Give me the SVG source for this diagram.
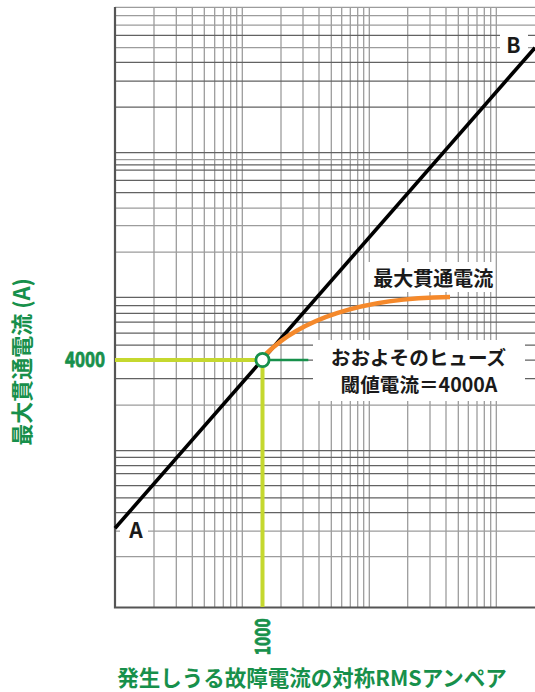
<svg xmlns="http://www.w3.org/2000/svg" width="535" height="692" viewBox="0 0 535 692">
<style>
.gv{stroke:#999;stroke-width:1.25;fill:none}
.gh{stroke:#626262;stroke-width:1.25;fill:none}
.ghl{stroke:#9c9c9c;stroke-width:1.25;fill:none}
.ax{stroke:#555;stroke-width:2.2;fill:none}
.bg{fill:#fff}
.lbl{font-family:"Noto Sans CJK JP","Noto Sans",sans-serif;font-weight:700;fill:#1a1a1a}
.grn{font-family:"Noto Sans CJK JP","Noto Sans",sans-serif;font-weight:700;fill:#17904b}
.num{stroke:#17904b;stroke-width:0.8}
</style>
<rect width="535" height="692" fill="#fff"/>
<g id="grid">
<path class="gv" d="M154 7.3V607.5M176.3 7.3V607.5M192.3 7.3V607.5M204.3 7.3V607.5M214.7 7.3V607.5M223.3 7.3V607.5M230.7 7.3V607.5M236.7 7.3V607.5M242.3 7.3V607.5M281 7.3V607.5M303 7.3V607.5M319 7.3V607.5M331.3 7.3V607.5M341.7 7.3V607.5M350.3 7.3V607.5M357.7 7.3V607.5M363.7 7.3V607.5M369.3 7.3V607.5M407.7 7.3V607.5M430 7.3V607.5M446 7.3V607.5M458.3 7.3V607.5M468.3 7.3V607.5M477 7.3V607.5M484.3 7.3V607.5M490.7 7.3V607.5M496.3 7.3V607.5"/>
<path class="ghl" d="M115 7.3H535M115 15.7H535M115 25H535M115 47.7H535M115 159.5H535M115 208H535M115 225.5H535M115 252H535M115 405H535M115 531H535M115 556.7H535"/>
<path class="gh" d="M115 35.3H535M115 62.3H535M115 81H535M115 107H535M115 152.7H535M115 164.8H535M115 170H535M115 180.3H535M115 192.7H535M115 297.3H535M115 305.5H535M115 313.3H535M115 322H535M115 333.2H535M115 345.2H535M115 360H535M115 378.5H535M115 450.7H535M115 457.3H535M115 465.5H535M115 473.7H535M115 485.5H535M115 497.8H535M115 512.5H535"/>
<path class="ax" d="M115 7V608.5M114 607.5H535"/>
</g>
<g id="label-B">
<rect class="bg" x="500" y="28" width="28" height="29"/>
<text class="lbl" x="513.5" y="53" font-size="21" text-anchor="middle">B</text>
</g>
<g id="label-A">
<rect class="bg" x="120" y="518" width="28" height="27"/>
<text class="lbl" x="136" y="538" font-size="21" text-anchor="middle">A</text>
</g>
<g id="label-max">
<rect class="bg" x="365" y="262" width="130" height="30"/>
<text class="lbl" x="433.3" y="286" font-size="20" text-anchor="middle">最大貫通電流</text>
</g>
<g id="label-fuse">
<rect class="bg" x="313" y="340" width="212" height="61"/>
<text class="lbl" x="418.5" y="365" font-size="19.6" text-anchor="middle">おおよそのヒューズ</text>
<text class="lbl" x="419" y="391.5" font-size="19.6" text-anchor="middle">閾値電流＝4000A</text>
</g>
<g id="connectors">
<path d="M115 360H262.5M262.5 360V607" stroke="#c5d82f" stroke-width="4" fill="none"/>
<path d="M262.5 360H308.3" stroke="#17904b" stroke-width="2.6" fill="none"/>
<path d="M115 528.3L535 47.7" stroke="#000" stroke-width="3.6" fill="none"/>
<path d="M266 354C300 320 360 298 450 297" stroke="#f5892b" stroke-width="4.6" fill="none"/>
</g>
<g id="point">
<circle cx="262.5" cy="360" r="6.6" fill="#fff" stroke="#17904b" stroke-width="2.8"/>
</g>
<g id="axis-labels">
<text class="grn num" x="85" y="366.5" font-size="20" text-anchor="middle" textLength="40" lengthAdjust="spacingAndGlyphs">4000</text>
<text class="grn num" transform="translate(270,636.7) rotate(-90)" x="0" y="0" font-size="21" text-anchor="middle" textLength="37" lengthAdjust="spacingAndGlyphs">1000</text>
<text class="grn" transform="translate(30,362) rotate(-90)" x="0" y="0" font-size="22" text-anchor="middle">最大貫通電流 (A)</text>
<text class="grn" x="312" y="686" font-size="21.5" text-anchor="middle">発生しうる故障電流の対称RMSアンペア</text>
</g>
</svg>
